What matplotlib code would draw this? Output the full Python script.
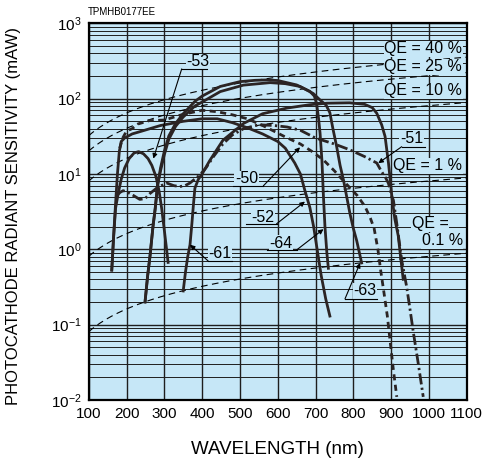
import numpy as np
import matplotlib
matplotlib.use("Agg")
import matplotlib.pyplot as plt
from matplotlib.ticker import LogLocator, NullFormatter

plt.rcParams['font.family'] = ['Liberation Sans', 'DejaVu Sans']
plt.rcParams['mathtext.fontset'] = 'custom'
plt.rcParams['mathtext.rm'] = 'Liberation Sans'
plt.rcParams['axes.unicode_minus'] = False

# photocathode curves (wavelength nm, sensitivity mA/W)
wl_53 = [161, 166, 171, 178, 186, 195, 207, 220, 232, 245, 257, 267, 278, 286, 293, 300, 306, 310]
s_53 = [0.53, 1.5, 3.5, 5.5, 8.5, 12, 16, 19, 19.8, 18.5, 16, 13, 9.2, 6, 3.5, 1.8, 1.0, 0.67]

wl_52 = [161, 166, 171, 176, 181, 186, 195, 215, 240, 290, 350, 400, 440, 480, 520, 560,
         600, 620, 645, 660, 672, 685, 695, 703, 715, 727, 738]
s_52 = [0.53, 1.5, 4, 10, 20, 27, 30, 34, 37, 44, 50, 54, 54, 48, 41, 34,
        27, 22, 14, 10, 6, 3.6, 2, 1.1, 0.45, 0.22, 0.13]

wl_50 = [182, 190, 200, 215, 230, 260, 300, 350, 400, 440, 480, 520, 560, 590, 620, 660,
         690, 720, 750, 780, 810, 831, 845, 855, 865, 873, 880, 890, 897, 906, 915]
s_50 = [22, 30, 37, 40, 46, 51, 52, 62, 70, 67, 61, 54, 44, 37, 31, 25,
        20, 15.5, 11, 7.5, 5.2, 3.7, 2.6, 1.9, 1.0, 0.5, 0.29, 0.13, 0.063, 0.025, 0.011]

wl_51 = [172, 183, 191, 200, 215, 235, 249, 262, 280, 306, 325, 341, 355, 368, 380, 394,
         410, 430, 455, 480, 510, 550, 590, 625, 660, 700, 750, 790, 830, 862, 875, 885,
         893, 902, 906, 915, 922, 928, 941, 950, 959, 972, 985]
s_51 = [5, 5.7, 6, 5.8, 5.3, 4.6, 4.7, 5.5, 6.5, 7.6, 7, 6.8, 7, 7.6, 8.5, 9.7,
        12, 17, 25, 33, 40, 45, 44, 42, 38, 30, 25, 21, 17, 14, 10.7, 9,
        7.5, 5, 4.5, 2.2, 1.2, 0.72, 0.32, 0.16, 0.078, 0.03, 0.011]

wl_61 = [350, 356, 362, 368, 373, 377, 381, 390, 400, 420, 455, 510, 560, 625, 685, 730,
         790, 830, 850, 862, 875, 884, 893, 898, 902, 910, 919, 925, 932]
s_61 = [0.28, 0.5, 0.8, 1.15, 2.2, 3.9, 6.5, 8.5, 10, 15, 28, 47, 63, 75, 83, 87,
        88, 84, 76, 64, 45, 31.5, 14, 8, 5, 2.5, 1.5, 0.8, 0.4]

wl_64 = [249, 256, 262, 270, 276, 282, 290, 300, 312, 330, 350, 381, 400, 448, 500, 540,
         571, 600, 650, 685, 697, 703, 708, 712, 717, 721, 725, 730, 734]
s_64 = [0.2, 0.45, 0.8, 2.0, 3.5, 7, 12, 20, 32, 47, 63, 92, 108, 145, 168, 175,
        177, 174, 152, 125, 108, 85, 55, 35, 15, 5, 2, 0.9, 0.56]

wl_63 = [249, 256, 262, 270, 276, 282, 290, 300, 312, 330, 350, 381, 400, 448, 509, 580,
         620, 659, 694, 712, 728, 738, 746, 756, 765, 774, 791, 800, 809, 822]
s_63 = [0.2, 0.45, 0.8, 2.0, 3.5, 7, 11, 18, 29, 43, 57, 80, 90, 124, 151, 163,
        158, 145, 117, 96, 82, 65, 40, 23, 13, 8.3, 3.0, 1.9, 1.3, 0.66]

# quantum efficiency reference lines (%)
qe_levels = [40, 25, 10, 1, 0.1]
qe_labels = ["QE = 40 %", "QE = 25 %", "QE = 10 %", "QE = 1 %", ""]

x_ticks = [100, 200, 300, 400, 500, 600, 700, 800, 900, 1000, 1100]

bg = '#c6e7f7'
ink = '#2b2424'

fig = plt.figure(figsize=(4.85, 4.63), dpi=100)
ax = fig.add_axes([0.1829, 0.1361, 0.7794, 0.8136])
ax.set_facecolor(bg)
ax.set_yscale('log')
ax.set_xlim(100, 1100)
ax.set_ylim(1e-2, 1e3)
ax.set_xticks(x_ticks)
ax.yaxis.set_minor_locator(LogLocator(base=10, subs=range(2, 10)))
ax.yaxis.set_minor_formatter(NullFormatter())
ax.tick_params(which='both', length=0, labelsize=11, pad=5)
ax.grid(True, which='major', axis='both', color='#1e1e1e', lw=1.0)
ax.grid(True, which='minor', axis='y', color='#1e1e1e', lw=0.7)
ax.set_axisbelow(True)
for sp in ax.spines.values():
    sp.set_linewidth(1.6)

# QE lines
lam = np.linspace(100, 1100, 200)
for q in qe_levels:
    ax.plot(lam, q / 100 * lam / 1239.84 * 1000, color='k', lw=0.8,
            dashes=(6, 4), zorder=2)

# curves
ax.plot(wl_53, s_53, color=ink, lw=2.0, zorder=3)
ax.plot(wl_52, s_52, color=ink, lw=2.0, zorder=3)
ax.plot(wl_50, s_50, color=ink, lw=2.0, dashes=(2.2, 1.6), zorder=3)
ax.plot(wl_51, s_51, color=ink, lw=2.0, dashes=(4, 1.2, 0.8, 1.2), zorder=3)
ax.plot(wl_61, s_61, color=ink, lw=2.0, zorder=3)
ax.plot(wl_64, s_64, color=ink, lw=2.0, zorder=3)
ax.plot(wl_63, s_63, color=ink, lw=2.0, zorder=3)

# curve labels: text position, underline span, leader start -> arrow tip
labels = [
    ("-53", (389, 307), (346, 413, 248), (346, 248), (271, 16)),
    ("-50", (517, 8.6), (482, 562, 6.95), (562, 6.95), (659, 22.6)),
    ("-51", (954, 29.2), (928, 990, 23), (928, 23), (866, 13.9)),
    ("-52", (561, 2.66), (515, 597, 2.18), (597, 2.18), (672, 4.3)),
    ("-64", (609, 1.2), (571, 650, 0.98), (650, 0.98), (721, 1.85)),
    ("-63", (831, 0.28), (778, 862, 0.22), (778, 0.22), (818, 0.66)),
    ("-61", (448, 0.885), (416, 480, 0.70), (416, 0.70), (368, 1.15)),
]
for txt, pos, ul, start, tip in labels:
    ax.text(pos[0], pos[1], txt, fontsize=11.5, ha='center', va='center', zorder=5,
            bbox=dict(facecolor=bg, edgecolor='none', pad=0.5))
    ax.plot([ul[0], ul[1]], [ul[2], ul[2]], color='k', lw=0.8, zorder=5)
    ax.annotate('', xy=tip, xytext=start, zorder=5,
                arrowprops=dict(arrowstyle='-|>', color='k', lw=0.8,
                                mutation_scale=7, shrinkA=0, shrinkB=0))

# QE labels
qe_y = [456, 263, 126.5, 12.8]
for lab, y in zip(qe_labels[:4], qe_y):
    ax.text(1088, y, lab, fontsize=11.5, ha='right', va='center', zorder=5,
            bbox=dict(facecolor=bg, edgecolor='none', pad=0.3))
ax.text(1003, 2.18, "QE =", fontsize=11.5, ha='center', va='center', zorder=5,
        bbox=dict(facecolor=bg, edgecolor='none', pad=0.3))
ax.text(1090, 1.3, "0.1 %", fontsize=11.5, ha='right', va='center', zorder=5,
        bbox=dict(facecolor=bg, edgecolor='none', pad=0.3))

fig.text(88 / 485, 1 - 15 / 463, "TPMHB0177EE", fontsize=7, ha='left', va='baseline')
fig.text(277 / 485, 1 - 450 / 463, "WAVELENGTH (nm)", fontsize=13.5, ha='center', va='center')
fig.text(14 / 485, 1 - 216 / 463, "PHOTOCATHODE RADIANT SENSITIVITY (mAW)", fontsize=12,
         ha='center', va='center', rotation=90)

fig.savefig("out.png", dpi=100)
